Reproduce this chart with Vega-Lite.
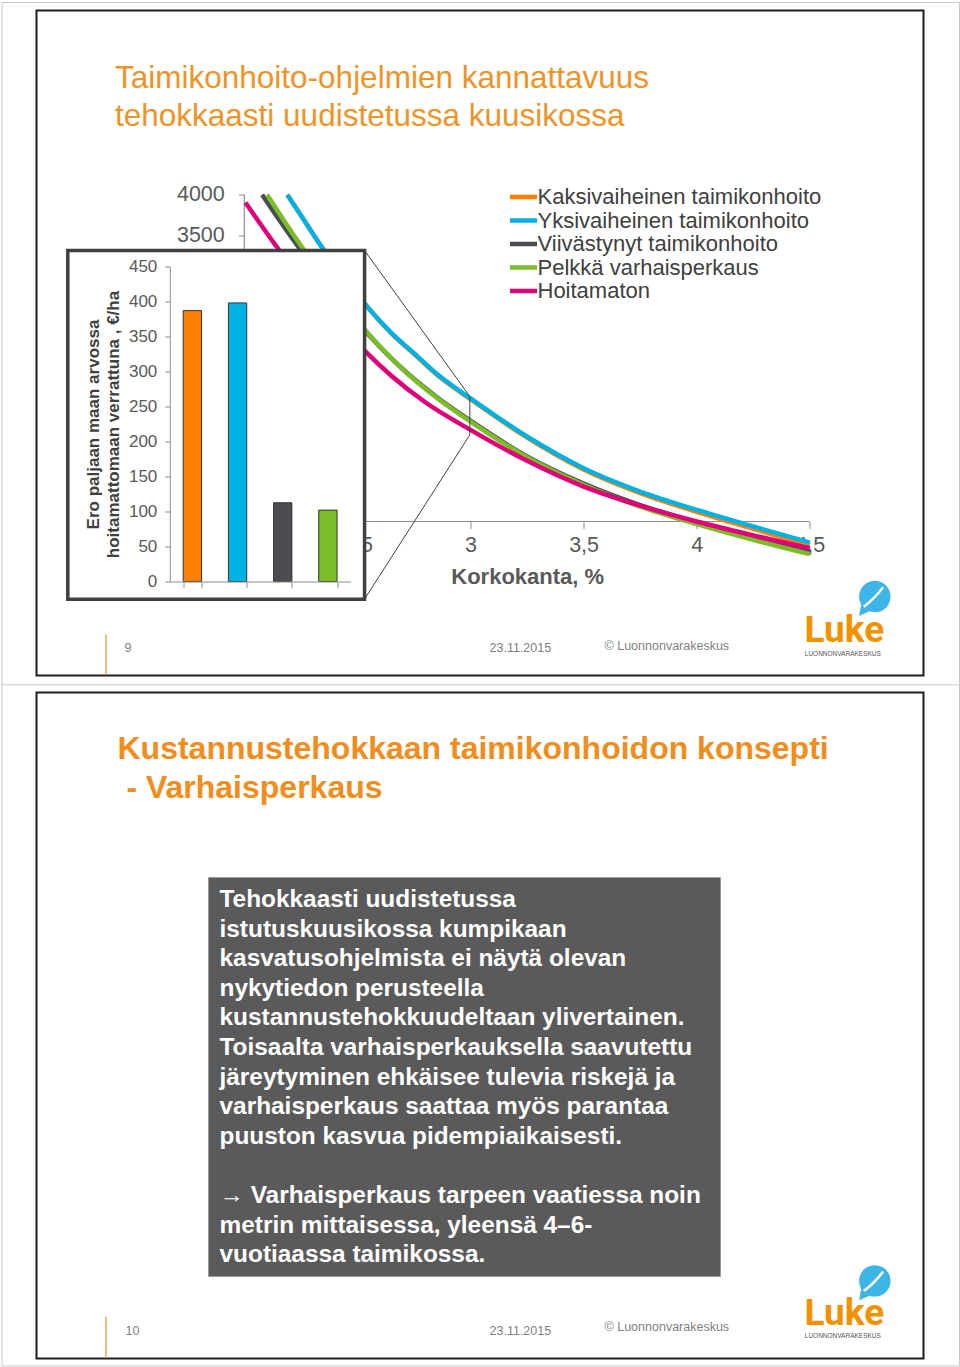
{
  "$schema": "https://vega.github.io/schema/vega-lite/v6.json",
  "background": "#ffffff",
  "padding": {"left": 0.5, "top": 0.5, "right": 0.5, "bottom": 0.5},
  "spacing": -4,
  "config": {
    "font": "Liberation Sans",
    "view": {"stroke": "#1e1e1e", "strokeWidth": 2, "fill": "#ffffff"},
    "axis": {"grid": false}
  },
  "datasets": {
    "kayrat": [
      {"ohjelma": "Kaksivaiheinen taimikonhoito", "korko": 2.19, "arvo": 4000},
      {"ohjelma": "Kaksivaiheinen taimikonhoito", "korko": 2.25, "arvo": 3750},
      {"ohjelma": "Kaksivaiheinen taimikonhoito", "korko": 2.35, "arvo": 3330},
      {"ohjelma": "Kaksivaiheinen taimikonhoito", "korko": 2.45, "arvo": 2958},
      {"ohjelma": "Kaksivaiheinen taimikonhoito", "korko": 2.55, "arvo": 2606},
      {"ohjelma": "Kaksivaiheinen taimikonhoito", "korko": 2.65, "arvo": 2304},
      {"ohjelma": "Kaksivaiheinen taimikonhoito", "korko": 2.75, "arvo": 2052},
      {"ohjelma": "Kaksivaiheinen taimikonhoito", "korko": 2.85, "arvo": 1800},
      {"ohjelma": "Kaksivaiheinen taimikonhoito", "korko": 3.0, "arvo": 1497},
      {"ohjelma": "Kaksivaiheinen taimikonhoito", "korko": 3.25, "arvo": 1028},
      {"ohjelma": "Kaksivaiheinen taimikonhoito", "korko": 3.5, "arvo": 637},
      {"ohjelma": "Kaksivaiheinen taimikonhoito", "korko": 3.75, "arvo": 348},
      {"ohjelma": "Kaksivaiheinen taimikonhoito", "korko": 4.0, "arvo": 118},
      {"ohjelma": "Kaksivaiheinen taimikonhoito", "korko": 4.25, "arvo": -90},
      {"ohjelma": "Kaksivaiheinen taimikonhoito", "korko": 4.5, "arvo": -292},
      {"ohjelma": "Yksivaiheinen taimikonhoito", "korko": 2.19, "arvo": 4000},
      {"ohjelma": "Yksivaiheinen taimikonhoito", "korko": 2.25, "arvo": 3750},
      {"ohjelma": "Yksivaiheinen taimikonhoito", "korko": 2.35, "arvo": 3330},
      {"ohjelma": "Yksivaiheinen taimikonhoito", "korko": 2.45, "arvo": 2960},
      {"ohjelma": "Yksivaiheinen taimikonhoito", "korko": 2.55, "arvo": 2610},
      {"ohjelma": "Yksivaiheinen taimikonhoito", "korko": 2.65, "arvo": 2310},
      {"ohjelma": "Yksivaiheinen taimikonhoito", "korko": 2.75, "arvo": 2060},
      {"ohjelma": "Yksivaiheinen taimikonhoito", "korko": 2.85, "arvo": 1810},
      {"ohjelma": "Yksivaiheinen taimikonhoito", "korko": 3.0, "arvo": 1508},
      {"ohjelma": "Yksivaiheinen taimikonhoito", "korko": 3.25, "arvo": 1041},
      {"ohjelma": "Yksivaiheinen taimikonhoito", "korko": 3.5, "arvo": 653},
      {"ohjelma": "Yksivaiheinen taimikonhoito", "korko": 3.75, "arvo": 367},
      {"ohjelma": "Yksivaiheinen taimikonhoito", "korko": 4.0, "arvo": 143},
      {"ohjelma": "Yksivaiheinen taimikonhoito", "korko": 4.25, "arvo": -61},
      {"ohjelma": "Yksivaiheinen taimikonhoito", "korko": 4.5, "arvo": -257},
      {"ohjelma": "Viivästynyt taimikonhoito", "korko": 2.079, "arvo": 4000},
      {"ohjelma": "Viivästynyt taimikonhoito", "korko": 2.15, "arvo": 3710},
      {"ohjelma": "Viivästynyt taimikonhoito", "korko": 2.248, "arvo": 3327},
      {"ohjelma": "Viivästynyt taimikonhoito", "korko": 2.4, "arvo": 2770},
      {"ohjelma": "Viivästynyt taimikonhoito", "korko": 2.536, "arvo": 2326},
      {"ohjelma": "Viivästynyt taimikonhoito", "korko": 2.7, "arvo": 1867},
      {"ohjelma": "Viivästynyt taimikonhoito", "korko": 2.85, "arvo": 1525},
      {"ohjelma": "Viivästynyt taimikonhoito", "korko": 3.0, "arvo": 1234},
      {"ohjelma": "Viivästynyt taimikonhoito", "korko": 3.25, "arvo": 797},
      {"ohjelma": "Viivästynyt taimikonhoito", "korko": 3.5, "arvo": 465},
      {"ohjelma": "Viivästynyt taimikonhoito", "korko": 3.75, "arvo": 202},
      {"ohjelma": "Viivästynyt taimikonhoito", "korko": 4.0, "arvo": -10},
      {"ohjelma": "Viivästynyt taimikonhoito", "korko": 4.25, "arvo": -197},
      {"ohjelma": "Viivästynyt taimikonhoito", "korko": 4.5, "arvo": -367},
      {"ohjelma": "Pelkkä varhaisperkaus", "korko": 2.101, "arvo": 4000},
      {"ohjelma": "Pelkkä varhaisperkaus", "korko": 2.18, "arvo": 3665},
      {"ohjelma": "Pelkkä varhaisperkaus", "korko": 2.263, "arvo": 3327},
      {"ohjelma": "Pelkkä varhaisperkaus", "korko": 2.4, "arvo": 2800},
      {"ohjelma": "Pelkkä varhaisperkaus", "korko": 2.536, "arvo": 2340},
      {"ohjelma": "Pelkkä varhaisperkaus", "korko": 2.7, "arvo": 1865},
      {"ohjelma": "Pelkkä varhaisperkaus", "korko": 2.85, "arvo": 1515},
      {"ohjelma": "Pelkkä varhaisperkaus", "korko": 3.0, "arvo": 1224},
      {"ohjelma": "Pelkkä varhaisperkaus", "korko": 3.25, "arvo": 787},
      {"ohjelma": "Pelkkä varhaisperkaus", "korko": 3.5, "arvo": 450},
      {"ohjelma": "Pelkkä varhaisperkaus", "korko": 3.75, "arvo": 182},
      {"ohjelma": "Pelkkä varhaisperkaus", "korko": 4.0, "arvo": -33},
      {"ohjelma": "Pelkkä varhaisperkaus", "korko": 4.25, "arvo": -225},
      {"ohjelma": "Pelkkä varhaisperkaus", "korko": 4.5, "arvo": -400},
      {"ohjelma": "Hoitamaton", "korko": 2.005, "arvo": 3905},
      {"ohjelma": "Hoitamaton", "korko": 2.153, "arvo": 3327},
      {"ohjelma": "Hoitamaton", "korko": 2.3, "arvo": 2800},
      {"ohjelma": "Hoitamaton", "korko": 2.45, "arvo": 2330},
      {"ohjelma": "Hoitamaton", "korko": 2.536, "arvo": 2081},
      {"ohjelma": "Hoitamaton", "korko": 2.65, "arvo": 1785},
      {"ohjelma": "Hoitamaton", "korko": 2.8, "arvo": 1460},
      {"ohjelma": "Hoitamaton", "korko": 3.0, "arvo": 1122},
      {"ohjelma": "Hoitamaton", "korko": 3.25, "arvo": 743},
      {"ohjelma": "Hoitamaton", "korko": 3.5, "arvo": 428},
      {"ohjelma": "Hoitamaton", "korko": 3.75, "arvo": 195},
      {"ohjelma": "Hoitamaton", "korko": 4.0, "arvo": 0},
      {"ohjelma": "Hoitamaton", "korko": 4.25, "arvo": -170},
      {"ohjelma": "Hoitamaton", "korko": 4.5, "arvo": -327}
    ],
    "erot": [
      {"ohjelma": "Kaksivaiheinen taimikonhoito", "ero": 387},
      {"ohjelma": "Yksivaiheinen taimikonhoito", "ero": 398},
      {"ohjelma": "Viivästynyt taimikonhoito", "ero": 112.5},
      {"ohjelma": "Pelkkä varhaisperkaus", "ero": 102}
    ],
    "teksti1": [
      {"kappale": "Tehokkaasti uudistetussa\nistutuskuusikossa kumpikaan\nkasvatusohjelmista ei näytä olevan\nnykytiedon perusteella\nkustannustehokkuudeltaan ylivertainen.\nToisaalta varhaisperkauksella saavutettu\njäreytyminen ehkäisee tulevia riskejä ja\nvarhaisperkaus saattaa myös parantaa\npuuston kasvua pidempiaikaisesti."}
    ],
    "teksti2": [
      {"kappale": "→ Varhaisperkaus tarpeen vaatiessa noin\nmetrin mittaisessa, yleensä 4–6-\nvuotiaassa taimikossa."}
    ],
    "tyhja": [{}]
  },
  "vconcat": [
    {
      "width": 887,
      "height": 665,
      "title": {
        "text": ["Taimikonhoito-ohjelmien kannattavuus", "tehokkaasti uudistetussa kuusikossa"],
        "orient": "top", "anchor": "start", "frame": "group",
        "offset": -130.5, "dx": 78.5, "fontSize": 31.5, "fontWeight": "normal",
        "color": "#F29224", "lineHeight": 38
      },
      "layer": [
        {
          "layer": [
            {
              "data": {"name": "tyhja"},
              "mark": {"type": "rule", "color": "#8c8c8c", "strokeWidth": 1.2},
              "encoding": {
                "x": {"datum": 2, "type": "quantitative"},
                "y": {"datum": -900, "type": "quantitative"},
                "y2": {"datum": 4000}
              }
            },
            {
              "data": {"name": "tyhja"},
              "mark": {"type": "rule", "color": "#8c8c8c", "strokeWidth": 1.2},
              "encoding": {
                "x": {"datum": 2, "type": "quantitative"},
                "x2": {"datum": 4.5},
                "y": {"datum": 0, "type": "quantitative"}
              }
            },
            {
              "data": {"name": "kayrat"},
              "mark": {"type": "line", "strokeWidth": 4.5, "interpolate": "monotone"},
              "encoding": {
                "x": {
                  "field": "korko", "type": "quantitative",
                  "scale": {"domain": [1.0813, 5.0027], "nice": false, "zero": false},
                  "axis": {
                    "orient": "bottom", "offset": -154, "values": [2, 2.5, 3, 3.5, 4, 4.5],
                    "labelExpr": "replace(toString(datum.value), '.', ',')",
                    "domain": false, "ticks": true, "tickSize": 7, "tickColor": "#8c8c8c",
                    "labelPadding": 6, "labelFontSize": 21.5, "labelColor": "#595959",
                    "labelFlush": false, "labelOverlap": false,
                    "title": "Korkokanta, %", "titleFontSize": 22, "titleFontWeight": "bold",
                    "titleColor": "#595959", "titleX": 490.7, "titleY": 45, "titleBaseline": "top"
                  }
                },
                "y": {
                  "field": "arvo", "type": "quantitative",
                  "scale": {"domain": [-1885.6, 6256.9], "nice": false, "zero": false},
                  "axis": {
                    "orient": "left", "offset": -207.8,
                    "values": [0, 500, 1000, 1500, 2000, 2500, 3000, 3500, 4000],
                    "format": "d", "domain": false, "tickSize": 6, "tickColor": "#8c8c8c",
                    "labelPadding": 14, "labelFontSize": 21.5, "labelColor": "#595959",
                    "labelFlush": false, "labelOverlap": false, "title": null
                  }
                },
                "color": {
                  "field": "ohjelma", "type": "nominal",
                  "scale": {
                    "domain": ["Kaksivaiheinen taimikonhoito", "Yksivaiheinen taimikonhoito", "Viivästynyt taimikonhoito", "Pelkkä varhaisperkaus", "Hoitamaton"],
                    "range": ["#FF8000", "#00B2E3", "#4B4D52", "#7ABD26", "#E2007A"]
                  },
                  "legend": {
                    "orient": "none", "legendX": 471, "legendY": 175.5, "title": null,
                    "symbolType": "stroke", "symbolStrokeWidth": 4.5, "symbolSize": 729,
                    "clipHeight": 22,
                    "labelFontSize": 22, "labelColor": "#404040", "labelOffset": -2,
                    "rowPadding": 1.5, "padding": 0, "labelLimit": 400
                  }
                }
              }
            },
            {
              "data": {"name": "tyhja"},
              "mark": {"type": "rect", "fill": "#ffffff", "stroke": "#404040", "strokeWidth": 3.5},
              "encoding": {
                "x": {"datum": 1.2197, "type": "quantitative"},
                "x2": {"datum": 2.5317},
                "y": {"datum": 3318, "type": "quantitative"},
                "y2": {"datum": -951}
              }
            },
            {
              "data": {"name": "tyhja"},
              "mark": {"type": "rule", "color": "#404040", "strokeWidth": 1},
              "encoding": {
                "x": {"datum": 2.5317, "type": "quantitative"},
                "x2": {"datum": 2.997},
                "y": {"datum": 3318, "type": "quantitative"},
                "y2": {"datum": 1531}
              }
            },
            {
              "data": {"name": "tyhja"},
              "mark": {"type": "rule", "color": "#404040", "strokeWidth": 1},
              "encoding": {
                "x": {"datum": 2.997, "type": "quantitative"},
                "y": {"datum": 1531, "type": "quantitative"},
                "y2": {"datum": 1061}
              }
            },
            {
              "data": {"name": "tyhja"},
              "mark": {"type": "rule", "color": "#404040", "strokeWidth": 1},
              "encoding": {
                "x": {"datum": 2.997, "type": "quantitative"},
                "x2": {"datum": 2.5317},
                "y": {"datum": 1061, "type": "quantitative"},
                "y2": {"datum": -951}
              }
            }
          ]
        },
        {
          "data": {"name": "erot"},
          "mark": {"type": "bar", "stroke": "#333333", "strokeWidth": 1},
          "encoding": {
            "x": {
              "field": "ohjelma", "type": "nominal", "sort": null,
              "scale": {"type": "band", "range": [133.3, 314], "paddingInner": 0.595, "paddingOuter": 0.2975},
              "axis": {
                "orient": "bottom", "offset": -94, "labels": false, "title": null,
                "tickBand": "extent", "tickSize": 6, "tickColor": "#8c8c8c",
                "domainColor": "#8c8c8c", "zindex": 1
              }
            },
            "y": {
              "field": "ero", "type": "quantitative",
              "scale": {"domain": [0, 450], "range": [571, 256], "nice": false},
              "axis": {
                "orient": "left", "offset": -133.3,
                "values": [0, 50, 100, 150, 200, 250, 300, 350, 400, 450],
                "tickSize": 5, "tickColor": "#8c8c8c", "domainColor": "#8c8c8c",
                "labelPadding": 8, "labelFontSize": 17, "labelColor": "#595959",
                "labelFlush": false, "labelOverlap": false,
                "title": ["Ero paljaan maan arvossa", "hoitamattomaan verrattuna , €/ha"],
                "titleFontSize": 17, "titleFontWeight": "bold", "titleColor": "#404040",
                "titleLineHeight": 20, "titlePadding": 6, "zindex": 1
              }
            },
            "fill": {
              "field": "ohjelma", "type": "nominal", "sort": null,
              "scale": {
                "domain": ["Kaksivaiheinen taimikonhoito", "Yksivaiheinen taimikonhoito", "Viivästynyt taimikonhoito", "Pelkkä varhaisperkaus"],
                "range": ["#FF8000", "#00B2E3", "#4B4D52", "#7ABD26"]
              },
              "legend": null
            }
          }
        },
        {
          "data": {"name": "tyhja"},
          "layer": [
            {
              "mark": {"type": "rule", "color": "#c8c8c8", "strokeWidth": 1},
              "encoding": {
                "x": {"datum": -0.9879, "type": "quantitative", "scale": {"domain": [0, 25.4], "nice": false, "zero": false}, "axis": null},
                "x2": {"datum": 26.431},
                "y": {"datum": -0.2292, "type": "quantitative", "scale": {"domain": [0, 19.05], "nice": false, "zero": false, "reverse": true}, "axis": null}
              }
            },
            {
              "mark": {"type": "rule", "color": "#c8c8c8", "strokeWidth": 1},
              "encoding": {
                "x": {"datum": -0.9879, "type": "quantitative", "scale": {"domain": [0, 25.4], "nice": false, "zero": false}, "axis": null},
                "x2": {"datum": 26.431},
                "y": {"datum": 19.3165, "type": "quantitative", "scale": {"domain": [0, 19.05], "nice": false, "zero": false, "reverse": true}, "axis": null}
              }
            },
            {
              "mark": {"type": "rule", "color": "#c8c8c8", "strokeWidth": 1},
              "encoding": {
                "x": {"datum": -0.9879, "type": "quantitative", "scale": {"domain": [0, 25.4], "nice": false, "zero": false}, "axis": null},
                "y": {"datum": -0.2292, "type": "quantitative", "scale": {"domain": [0, 19.05], "nice": false, "zero": false, "reverse": true}, "axis": null},
                "y2": {"datum": 19.3165}
              }
            },
            {
              "mark": {"type": "rule", "color": "#c8c8c8", "strokeWidth": 1},
              "encoding": {
                "x": {"datum": 26.431, "type": "quantitative", "scale": {"domain": [0, 25.4], "nice": false, "zero": false}, "axis": null},
                "y": {"datum": -0.2292, "type": "quantitative", "scale": {"domain": [0, 19.05], "nice": false, "zero": false, "reverse": true}, "axis": null},
                "y2": {"datum": 19.3165}
              }
            },
            {
              "mark": {"type": "rule", "color": "#F5A54A", "strokeWidth": 1.5},
              "encoding": {
                "x": {"datum": 1.99, "type": "quantitative", "scale": {"domain": [0, 25.4], "nice": false, "zero": false}, "axis": null},
                "y": {"datum": 17.875, "type": "quantitative", "scale": {"domain": [0, 19.05], "nice": false, "zero": false, "reverse": true}, "axis": null},
                "y2": {"datum": 19.02}
              }
            },
            {
              "mark": {"type": "text", "text": "9", "align": "left", "baseline": "middle", "fontSize": 12.5, "color": "#7f7f7f"},
              "encoding": {
                "x": {"datum": 2.52, "type": "quantitative", "scale": {"domain": [0, 25.4], "nice": false, "zero": false}, "axis": null},
                "y": {"datum": 18.276, "type": "quantitative", "scale": {"domain": [0, 19.05], "nice": false, "zero": false, "reverse": true}, "axis": null}
              }
            },
            {
              "mark": {"type": "text", "text": "23.11.2015", "align": "left", "baseline": "middle", "fontSize": 12.5, "color": "#7f7f7f"},
              "encoding": {
                "x": {"datum": 12.973, "type": "quantitative", "scale": {"domain": [0, 25.4], "nice": false, "zero": false}, "axis": null},
                "y": {"datum": 18.276, "type": "quantitative", "scale": {"domain": [0, 19.05], "nice": false, "zero": false, "reverse": true}, "axis": null}
              }
            },
            {
              "mark": {"type": "text", "text": "© Luonnonvarakeskus", "align": "left", "baseline": "middle", "fontSize": 12.5, "color": "#7f7f7f"},
              "encoding": {
                "x": {"datum": 16.266, "type": "quantitative", "scale": {"domain": [0, 25.4], "nice": false, "zero": false}, "axis": null},
                "y": {"datum": 18.218, "type": "quantitative", "scale": {"domain": [0, 19.05], "nice": false, "zero": false, "reverse": true}, "axis": null}
              }
            },
            {
              "mark": {"type": "text", "text": "Luke", "align": "left", "baseline": "alphabetic", "font": "Liberation Sans Narrow, Roboto", "fontSize": 37, "fontWeight": "bold", "color": "#F39200"},
              "encoding": {
                "x": {"datum": 21.99, "type": "quantitative", "scale": {"domain": [0, 25.4], "nice": false, "zero": false}, "axis": null},
                "y": {"datum": 18.1, "type": "quantitative", "scale": {"domain": [0, 19.05], "nice": false, "zero": false, "reverse": true}, "axis": null}
              }
            },
            {
              "mark": {"type": "text", "text": "LUONNONVARAKESKUS", "align": "left", "baseline": "middle", "fontSize": 6.5, "color": "#555555"},
              "encoding": {
                "x": {"datum": 22.0, "type": "quantitative", "scale": {"domain": [0, 25.4], "nice": false, "zero": false}, "axis": null},
                "y": {"datum": 18.43, "type": "quantitative", "scale": {"domain": [0, 19.05], "nice": false, "zero": false, "reverse": true}, "axis": null}
              }
            },
            {
              "mark": {"type": "point", "shape": "M-0.8,0.95 L-0.686,0.325 A0.85,0.85 0 1,1 -0.241,0.699 Z", "size": 1369, "filled": true, "fill": "#3DB5E6", "strokeWidth": 0, "opacity": 1},
              "encoding": {
                "x": {"datum": 23.98, "type": "quantitative", "scale": {"domain": [0, 25.4], "nice": false, "zero": false}, "axis": null},
                "y": {"datum": 16.84, "type": "quantitative", "scale": {"domain": [0, 19.05], "nice": false, "zero": false, "reverse": true}, "axis": null}
              }
            },
            {
              "mark": {"type": "point", "shape": "M-0.55,0.45 Q-0.05,0.1 0.5,-0.6", "size": 1369, "filled": false, "stroke": "#ffffff", "strokeWidth": 2.5, "opacity": 1},
              "encoding": {
                "x": {"datum": 23.98, "type": "quantitative", "scale": {"domain": [0, 25.4], "nice": false, "zero": false}, "axis": null},
                "y": {"datum": 16.84, "type": "quantitative", "scale": {"domain": [0, 19.05], "nice": false, "zero": false, "reverse": true}, "axis": null}
              }
            }
          ]
        }
      ],
      "resolve": {"scale": {"x": "independent", "y": "independent"}}
    },
    {
      "width": 887,
      "height": 666,
      "title": {
        "text": ["Kustannustehokkaan taimikonhoidon konsepti", "\u200b\u00a0- Varhaisperkaus"],
        "orient": "top", "anchor": "start", "frame": "group",
        "offset": -121, "dx": 81, "fontSize": 32, "fontWeight": "bold",
        "color": "#F28C1A", "lineHeight": 39
      },
      "data": {"name": "tyhja"},
      "layer": [
        {
          "mark": {"type": "rule", "color": "#c8c8c8", "strokeWidth": 1},
          "encoding": {
            "x": {"datum": -0.9879, "type": "quantitative", "scale": {"domain": [0, 25.4], "nice": false, "zero": false}, "axis": null},
            "y": {"datum": -0.2291, "type": "quantitative", "scale": {"domain": [0, 19.07], "nice": false, "zero": false, "reverse": true}, "axis": null},
            "y2": {"datum": 19.285}
          }
        },
        {
          "mark": {"type": "rule", "color": "#c8c8c8", "strokeWidth": 1},
          "encoding": {
            "x": {"datum": 26.431, "type": "quantitative", "scale": {"domain": [0, 25.4], "nice": false, "zero": false}, "axis": null},
            "y": {"datum": -0.2291, "type": "quantitative", "scale": {"domain": [0, 19.07], "nice": false, "zero": false, "reverse": true}, "axis": null},
            "y2": {"datum": 19.285}
          }
        },
        {
          "mark": {"type": "rule", "color": "#c8c8c8", "strokeWidth": 1},
          "encoding": {
            "x": {"datum": -0.9879, "type": "quantitative", "scale": {"domain": [0, 25.4], "nice": false, "zero": false}, "axis": null},
            "x2": {"datum": 26.431},
            "y": {"datum": 19.285, "type": "quantitative", "scale": {"domain": [0, 19.07], "nice": false, "zero": false, "reverse": true}, "axis": null}
          }
        },
        {
          "mark": {"type": "rect", "fill": "#5a5a5a", "stroke": "#9a9a9a", "strokeWidth": 1},
          "encoding": {
            "x": {"datum": 4.925, "type": "quantitative", "scale": {"domain": [0, 25.4], "nice": false, "zero": false}, "axis": null},
            "x2": {"datum": 19.588},
            "y": {"datum": 5.298, "type": "quantitative", "scale": {"domain": [0, 19.07], "nice": false, "zero": false, "reverse": true}, "axis": null},
            "y2": {"datum": 16.724}
          }
        },
        {
          "data": {"name": "teksti1"},
          "mark": {"type": "text", "align": "left", "baseline": "top", "lineBreak": "\n", "fontSize": 24.4, "fontWeight": "bold", "color": "#ffffff", "lineHeight": 29.6},
          "encoding": {
            "x": {"datum": 5.241, "type": "quantitative", "scale": {"domain": [0, 25.4], "nice": false, "zero": false}, "axis": null},
            "y": {"datum": 5.598, "type": "quantitative", "scale": {"domain": [0, 19.07], "nice": false, "zero": false, "reverse": true}, "axis": null},
            "text": {"field": "kappale", "type": "nominal"}
          }
        },
        {
          "data": {"name": "teksti2"},
          "mark": {"type": "text", "align": "left", "baseline": "top", "lineBreak": "\n", "fontSize": 24.4, "fontWeight": "bold", "color": "#ffffff", "lineHeight": 29.6},
          "encoding": {
            "x": {"datum": 5.241, "type": "quantitative", "scale": {"domain": [0, 25.4], "nice": false, "zero": false}, "axis": null},
            "y": {"datum": 14.074, "type": "quantitative", "scale": {"domain": [0, 19.07], "nice": false, "zero": false, "reverse": true}, "axis": null},
            "text": {"field": "kappale", "type": "nominal"}
          }
        },
        {
          "mark": {"type": "rule", "color": "#F5A54A", "strokeWidth": 1.5},
          "encoding": {
            "x": {"datum": 1.99, "type": "quantitative", "scale": {"domain": [0, 25.4], "nice": false, "zero": false}, "axis": null},
            "y": {"datum": 17.875, "type": "quantitative", "scale": {"domain": [0, 19.07], "nice": false, "zero": false, "reverse": true}, "axis": null},
            "y2": {"datum": 19.04}
          }
        },
        {
          "mark": {"type": "text", "text": "10", "align": "left", "baseline": "middle", "fontSize": 12.5, "color": "#7f7f7f"},
          "encoding": {
            "x": {"datum": 2.549, "type": "quantitative", "scale": {"domain": [0, 25.4], "nice": false, "zero": false}, "axis": null},
            "y": {"datum": 18.27, "type": "quantitative", "scale": {"domain": [0, 19.07], "nice": false, "zero": false, "reverse": true}, "axis": null}
          }
        },
        {
          "mark": {"type": "text", "text": "23.11.2015", "align": "left", "baseline": "middle", "fontSize": 12.5, "color": "#7f7f7f"},
          "encoding": {
            "x": {"datum": 12.973, "type": "quantitative", "scale": {"domain": [0, 25.4], "nice": false, "zero": false}, "axis": null},
            "y": {"datum": 18.27, "type": "quantitative", "scale": {"domain": [0, 19.07], "nice": false, "zero": false, "reverse": true}, "axis": null}
          }
        },
        {
          "mark": {"type": "text", "text": "© Luonnonvarakeskus", "align": "left", "baseline": "middle", "fontSize": 12.5, "color": "#7f7f7f"},
          "encoding": {
            "x": {"datum": 16.266, "type": "quantitative", "scale": {"domain": [0, 25.4], "nice": false, "zero": false}, "axis": null},
            "y": {"datum": 18.18, "type": "quantitative", "scale": {"domain": [0, 19.07], "nice": false, "zero": false, "reverse": true}, "axis": null}
          }
        },
        {
          "mark": {"type": "text", "text": "Luke", "align": "left", "baseline": "alphabetic", "font": "Liberation Sans Narrow, Roboto", "fontSize": 37, "fontWeight": "bold", "color": "#F39200"},
          "encoding": {
            "x": {"datum": 21.99, "type": "quantitative", "scale": {"domain": [0, 25.4], "nice": false, "zero": false}, "axis": null},
            "y": {"datum": 18.1, "type": "quantitative", "scale": {"domain": [0, 19.07], "nice": false, "zero": false, "reverse": true}, "axis": null}
          }
        },
        {
          "mark": {"type": "text", "text": "LUONNONVARAKESKUS", "align": "left", "baseline": "middle", "fontSize": 6.5, "color": "#555555"},
          "encoding": {
            "x": {"datum": 22.0, "type": "quantitative", "scale": {"domain": [0, 25.4], "nice": false, "zero": false}, "axis": null},
            "y": {"datum": 18.43, "type": "quantitative", "scale": {"domain": [0, 19.07], "nice": false, "zero": false, "reverse": true}, "axis": null}
          }
        },
        {
          "mark": {"type": "point", "shape": "M-0.8,0.95 L-0.686,0.325 A0.85,0.85 0 1,1 -0.241,0.699 Z", "size": 1369, "filled": true, "fill": "#3DB5E6", "strokeWidth": 0, "opacity": 1},
          "encoding": {
            "x": {"datum": 23.98, "type": "quantitative", "scale": {"domain": [0, 25.4], "nice": false, "zero": false}, "axis": null},
            "y": {"datum": 16.9, "type": "quantitative", "scale": {"domain": [0, 19.07], "nice": false, "zero": false, "reverse": true}, "axis": null}
          }
        },
        {
          "mark": {"type": "point", "shape": "M-0.55,0.45 Q-0.05,0.1 0.5,-0.6", "size": 1369, "filled": false, "stroke": "#ffffff", "strokeWidth": 2.5, "opacity": 1},
          "encoding": {
            "x": {"datum": 23.98, "type": "quantitative", "scale": {"domain": [0, 25.4], "nice": false, "zero": false}, "axis": null},
            "y": {"datum": 16.9, "type": "quantitative", "scale": {"domain": [0, 19.07], "nice": false, "zero": false, "reverse": true}, "axis": null}
          }
        }
      ]
    }
  ]
}
